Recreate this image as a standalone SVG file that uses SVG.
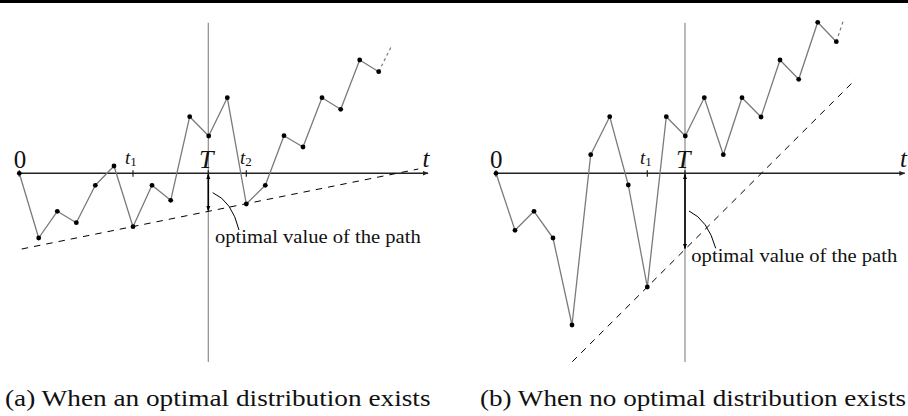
<svg xmlns="http://www.w3.org/2000/svg" width="908" height="416" viewBox="0 0 908 416">
<defs>
<style>
.axis{stroke:#222;stroke-width:1.5;fill:none}
.tick{stroke:#222;stroke-width:1.2}
.vline{stroke:#8c8c8c;stroke-width:1.2}
.path{stroke:#7a7a7a;stroke-width:1.3;fill:none;stroke-linejoin:round}
.cont{stroke:#7a7a7a;stroke-width:1.2;stroke-dasharray:3 3}
.dash{stroke:#000;stroke-width:1;stroke-dasharray:6.5 6;fill:none}
.varrow{stroke:#000;stroke-width:1.6}
.curve{stroke:#000;stroke-width:1;fill:none}
.dot{fill:#000}
.lbl{font-family:'Liberation Serif','Times New Roman',serif;fill:#111}
.it{font-style:italic}
</style>
<marker id="ah" viewBox="0 0 10 10" refX="9" refY="5" markerWidth="6" markerHeight="6" markerUnits="userSpaceOnUse" orient="auto">
<path d="M0,1 L10,5 L0,9 Z" fill="#222"/>
</marker>
<marker id="vh" viewBox="0 0 10 10" refX="9" refY="5" markerWidth="5" markerHeight="5" markerUnits="userSpaceOnUse" orient="auto-start-reverse">
<path d="M0,1 L10,5 L0,9 Z" fill="#000"/>
</marker>
</defs>
<rect x="0" y="0" width="908" height="416" fill="#fff"/>
<rect x="0" y="0" width="908" height="3" fill="#000"/>

<g id="panel-a">
<line class="vline" x1="208.3" y1="22.7" x2="208.3" y2="362"/>
<line class="axis" x1="19.3" y1="173.3" x2="428" y2="173.3" marker-end="url(#ah)"/>
<line class="tick" x1="19.3" y1="170.3" x2="19.3" y2="176.8"/>
<line class="tick" x1="133" y1="170.3" x2="133" y2="176.8"/>
<line class="tick" x1="208.3" y1="170.3" x2="208.3" y2="176.8"/>
<line class="tick" x1="246.3" y1="170.3" x2="246.3" y2="176.8"/>
<line class="dash" x1="21.7" y1="249" x2="418.3" y2="169"/>
<polyline class="path" points="19.3,173.3 38.7,238 57.3,211.3 76.3,222.7 95.3,185.3 114,166 133,226.7 152,185.3 170.7,200.3 189.7,116.7 208.7,136 227.3,97.7 246.3,204 265.3,185.3 284,135.7 303,147 322,97.7 340.7,109.3 359.7,60 378.7,71.7"/>
<line class="cont" x1="378.7" y1="71.7" x2="391.7" y2="45.7"/>
<g class="dot">
<circle cx="19.3" cy="173.3" r="2.4"/><circle cx="38.7" cy="238" r="2.4"/><circle cx="57.3" cy="211.3" r="2.4"/><circle cx="76.3" cy="222.7" r="2.4"/><circle cx="95.3" cy="185.3" r="2.4"/><circle cx="114" cy="166" r="2.4"/><circle cx="133" cy="226.7" r="2.4"/><circle cx="152" cy="185.3" r="2.4"/><circle cx="170.7" cy="200.3" r="2.4"/><circle cx="189.7" cy="116.7" r="2.4"/><circle cx="208.7" cy="136" r="2.4"/><circle cx="227.3" cy="97.7" r="2.4"/><circle cx="246.3" cy="204" r="2.4"/><circle cx="265.3" cy="185.3" r="2.4"/><circle cx="284" cy="135.7" r="2.4"/><circle cx="303" cy="147" r="2.4"/><circle cx="322" cy="97.7" r="2.4"/><circle cx="340.7" cy="109.3" r="2.4"/><circle cx="359.7" cy="60" r="2.4"/><circle cx="378.7" cy="71.7" r="2.4"/>
</g>
<line class="varrow" x1="208.3" y1="174.5" x2="208.3" y2="210.5" marker-start="url(#vh)" marker-end="url(#vh)"/>
<path class="curve" d="M212.7,192.7 Q232,201 239,230"/>
<text class="lbl" x="20" y="168" font-size="25" text-anchor="middle">0</text>
<text class="lbl it" x="125" y="164" font-size="19">t<tspan font-size="13" font-style="normal" dy="1.5">1</tspan></text>
<text class="lbl it" x="199" y="167.5" font-size="26">T</text>
<text class="lbl it" x="240" y="163.5" font-size="19">t<tspan font-size="13" font-style="normal" dy="2">2</tspan></text>
<text class="lbl it" x="422.5" y="166.5" font-size="25">t</text>
<text class="lbl" x="215" y="243.3" font-size="18" textLength="205.7" lengthAdjust="spacingAndGlyphs">optimal value of the path</text>
</g>

<g id="panel-b">
<line class="vline" x1="685" y1="22.7" x2="685" y2="362"/>
<line class="axis" x1="496" y1="173.3" x2="904.7" y2="173.3" marker-end="url(#ah)"/>
<line class="tick" x1="496" y1="170.3" x2="496" y2="176.8"/>
<line class="tick" x1="647.3" y1="170.3" x2="647.3" y2="176.8"/>
<line class="tick" x1="685" y1="170.3" x2="685" y2="176.8"/>
<line class="dash" x1="572.3" y1="361.7" x2="855.7" y2="79.3"/>
<polyline class="path" points="496,173.3 515,230.3 534,211.3 553,238 572,325 590.7,154.7 609.7,116.7 628.3,185 647.3,287 666.3,116.7 685.3,136 704.3,97.7 723.3,154.7 742,97.7 761,117 780,60 798.7,79.3 817.7,22.3 836.3,41.7"/>
<line class="cont" x1="836.3" y1="41.7" x2="843.3" y2="20.7"/>
<g class="dot">
<circle cx="496" cy="173.3" r="2.4"/><circle cx="515" cy="230.3" r="2.4"/><circle cx="534" cy="211.3" r="2.4"/><circle cx="553" cy="238" r="2.4"/><circle cx="572" cy="325" r="2.4"/><circle cx="590.7" cy="154.7" r="2.4"/><circle cx="609.7" cy="116.7" r="2.4"/><circle cx="628.3" cy="185" r="2.4"/><circle cx="647.3" cy="287" r="2.4"/><circle cx="666.3" cy="116.7" r="2.4"/><circle cx="685.3" cy="136" r="2.4"/><circle cx="704.3" cy="97.7" r="2.4"/><circle cx="723.3" cy="154.7" r="2.4"/><circle cx="742" cy="97.7" r="2.4"/><circle cx="761" cy="117" r="2.4"/><circle cx="780" cy="60" r="2.4"/><circle cx="798.7" cy="79.3" r="2.4"/><circle cx="817.7" cy="22.3" r="2.4"/><circle cx="836.3" cy="41.7" r="2.4"/>
</g>
<line class="varrow" x1="685" y1="174.5" x2="685" y2="248.5" marker-start="url(#vh)" marker-end="url(#vh)"/>
<path class="curve" d="M689,211 Q708,220 715.7,248.3"/>
<text class="lbl" x="496.3" y="168" font-size="25" text-anchor="middle">0</text>
<text class="lbl it" x="640" y="164" font-size="19">t<tspan font-size="13" font-style="normal" dy="1.5">1</tspan></text>
<text class="lbl it" x="676" y="168" font-size="26">T</text>
<text class="lbl it" x="900" y="166.5" font-size="25">t</text>
<text class="lbl" x="691.3" y="261.5" font-size="18" textLength="206" lengthAdjust="spacingAndGlyphs">optimal value of the path</text>
</g>

<g id="captions">
<text class="lbl" x="5" y="406" font-size="23" textLength="425.5" lengthAdjust="spacingAndGlyphs">(a) When an optimal distribution exists</text>
<text class="lbl" x="480" y="406" font-size="23" textLength="426" lengthAdjust="spacingAndGlyphs">(b) When no optimal distribution exists</text>
</g>
</svg>
